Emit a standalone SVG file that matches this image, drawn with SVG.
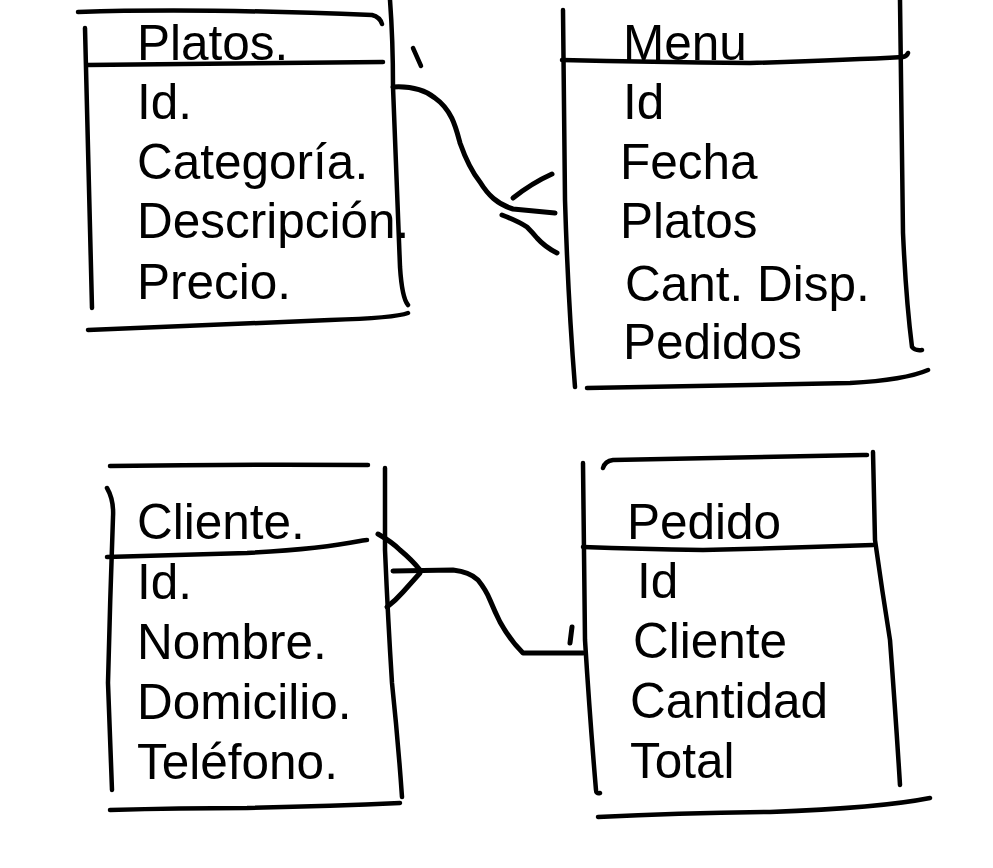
<svg xmlns="http://www.w3.org/2000/svg" width="993" height="868" viewBox="0 0 993 868">
<style>
.s{fill:none;stroke:#000;stroke-width:4.5;stroke-linecap:round;stroke-linejoin:round}
.c{fill:none;stroke:#000;stroke-width:5;stroke-linecap:round;stroke-linejoin:round}
.t{font-family:"Liberation Sans",Arial,sans-serif;font-size:49.5px;fill:#000}
</style>
<rect width="993" height="868" fill="#fff"/>
<g id="platos">
<path class="s" d="M78,12 Q200,8 372,15 Q380,17 382,24"/>
<path class="s" d="M85,28 Q88,160 92,308"/>
<path class="s" d="M87,65 Q240,63 383,62"/>
<path class="s" d="M390,0 Q393,40 393,87 Q397,180 400,267 Q402,298 408,305"/>
<path class="s" d="M88,330 Q200,325 330,320 Q395,318 408,313"/>
<path class="s" d="M413,48 L421,66"/>
<text class="t" x="137" y="60">Platos.</text>
<text class="t" x="137" y="119">Id.</text>
<text class="t" x="137" y="179">Categoría.</text>
<text class="t" x="137" y="238">Descripción.</text>
<text class="t" x="137" y="299">Precio.</text>
</g>
<g id="menu">
<path class="s" d="M563,10 Q564,100 565,200 Q568,300 575,387"/>
<path class="s" d="M562,60 Q650,62 750,63 Q850,60 903,57 Q907,56 908,53"/>
<path class="s" d="M900,0 Q902,120 903,233 Q906,300 912,347 Q915,351 922,350"/>
<path class="s" d="M587,388 Q720,386 850,383 Q905,380 928,370"/>
<text class="t" x="623" y="60">Menu</text>
<text class="t" x="623" y="119">Id</text>
<text class="t" x="620" y="179">Fecha</text>
<text class="t" x="620" y="238">Platos</text>
<text class="t" x="625" y="301">Cant. Disp.</text>
<text class="t" x="623" y="359">Pedidos</text>
</g>
<g id="cliente">
<path class="s" d="M110,466 Q240,464 368,465"/>
<path class="s" d="M107,488 Q114,500 113,517 Q110,600 108,683 Q110,740 112,790"/>
<path class="s" d="M107,557 Q180,555 247,553 Q320,549 360,541 Q366,540 367,540"/>
<path class="s" d="M385,468 Q385,510 385,550 Q388,620 392,683 Q398,740 402,797"/>
<path class="s" d="M110,810 Q180,808 247,808 Q330,806 400,803"/>
<text class="t" x="137" y="539">Cliente.</text>
<text class="t" x="137" y="599">Id.</text>
<text class="t" x="137" y="659">Nombre.</text>
<text class="t" x="137" y="719">Domicilio.</text>
<text class="t" x="137" y="779">Teléfono.</text>
</g>
<g id="pedido">
<path class="s" d="M603,468 Q605,461 613,460 Q740,457 863,455 Q867,455 867,455"/>
<path class="s" d="M873,452 Q874,500 875,540 Q882,590 890,640 Q896,720 900,785"/>
<path class="s" d="M583,463 Q584,550 585,640 Q590,720 596,790 Q596,794 600,793"/>
<path class="s" d="M583,547 Q640,549 703,550 Q790,548 873,545"/>
<path class="s" d="M598,817 Q680,813 770,812 Q880,808 930,798"/>
<text class="t" x="627" y="539">Pedido</text>
<text class="t" x="637" y="598">Id</text>
<text class="t" x="633" y="658">Cliente</text>
<text class="t" x="630" y="718">Cantidad</text>
<text class="t" x="630" y="778">Total</text>
</g>
<g id="connectors">
<path class="c" d="M393,87 C410,86 425,90 435,98 C452,110 456,128 460,143 C466,160 472,172 480,182 C488,195 497,204 513,209 L555,213"/>
<path class="c" d="M513,198 Q532,183 552,174"/>
<path class="c" d="M502,215 Q518,221 527,227 Q532,232 537,238 Q545,247 557,253"/>
<path class="c" d="M378,534 Q392,542 400,550 Q412,560 420,570"/>
<path class="c" d="M387,607 Q396,600 403,592 Q412,582 420,573"/>
<path class="c" d="M393,571 L453,570 Q470,572 478,580 Q486,590 490,600 Q495,612 500,622 Q510,640 523,653 L583,653"/>
<path class="c" d="M572,627 L570,643"/>
</g>
</svg>
